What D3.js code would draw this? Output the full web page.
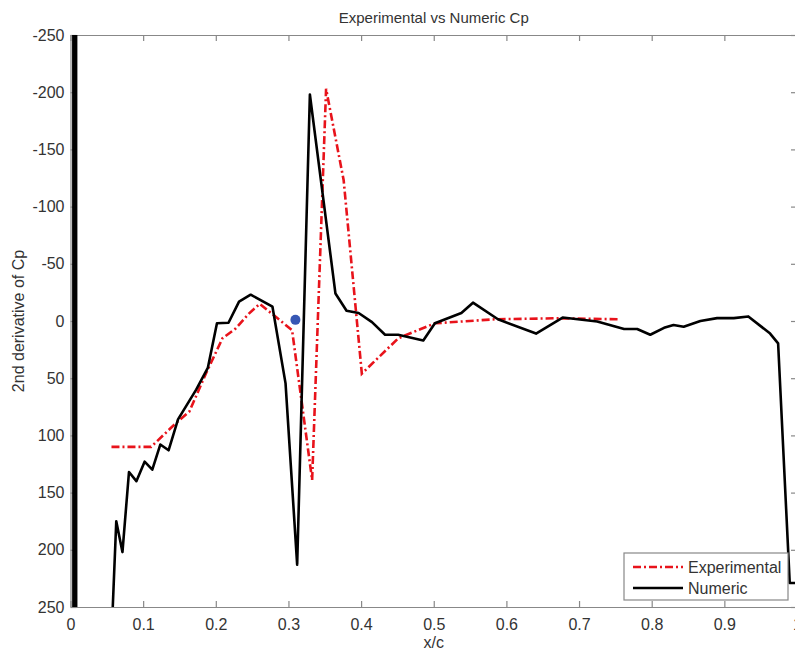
<!DOCTYPE html>
<html>
<head>
<meta charset="utf-8">
<script src="https://cdn.jsdelivr.net/npm/d3@7"></script>
<style>
  body { margin: 0; background: #fff; }
  svg text { font-family: "Liberation Sans", Arial, sans-serif; fill: #333; }
</style>
</head>
<body>
<div id="chart"></div>
<script>
// Numeric Cp second derivative (x/c, value)
const numericX = [0.003, 0.005, 0.007, 0.0085, 0.053, 0.063, 0.0715, 0.0805, 0.0907, 0.102, 0.1126, 0.1236, 0.135, 0.148, 0.173, 0.189, 0.2016, 0.2175, 0.232, 0.248, 0.278, 0.296, 0.312, 0.3295, 0.3647, 0.38, 0.3966, 0.415, 0.433, 0.451, 0.4856, 0.5016, 0.538, 0.554, 0.5884, 0.6408, 0.6774, 0.725, 0.762, 0.78, 0.798, 0.817, 0.83, 0.844, 0.867, 0.89, 0.913, 0.933, 0.963, 0.974, 0.99, 1.0];
const numericY = [-5000, 5000, -5000, 5000, 330, 175, 202, 132, 140, 123, 130, 108, 113, 86, 60, 41, 2, 1.5, -17, -23, -12.5, 54.5, 213, -198, -24, -9, -7, 1, 12, 12, 17, 2, -7, -16, -1.5, 11, -3, 0.5, 7, 7, 12, 6, 3.5, 5, 0, -2.5, -2.5, -4, 11, 19.5, 229, 229];

// Experimental
const expX = [0.0564, 0.111, 0.1455, 0.1637, 0.1866, 0.2093, 0.2277, 0.246, 0.2605, 0.305, 0.3326, 0.3518, 0.376, 0.401, 0.4514, 0.5016, 0.584, 0.67, 0.753];
const expY = [110, 110, 89, 79, 45.7, 15, 6.4, -6.7, -15, 8, 139, -203, -123, 46, 15, 2, -1.5, -2.4, -1.5];

// single marker
const markerX = [0.3096];
const markerY = [-1];

const xTicks = [0, 0.1, 0.2, 0.3, 0.4, 0.5, 0.6, 0.7, 0.8, 0.9, 1];
const yTicks = [-250, -200, -150, -100, -50, 0, 50, 100, 150, 200, 250];
const seriesNames = ["Experimental", "Numeric"];

const width = 795, height = 650;
const margin = { top: 35, right: -2, bottom: 43, left: 70.5 };

const svg = d3.select("#chart").append("svg")
    .attr("width", width)
    .attr("height", height);

const x = d3.scaleLinear().domain([0, 1]).range([margin.left, width - margin.right]);
const y = d3.scaleLinear().domain([-250, 250]).range([margin.top, height - margin.bottom]);

svg.append("clipPath").attr("id", "plot-clip")
    .append("rect")
    .attr("x", x(0)).attr("y", y(-250))
    .attr("width", x(1) - x(0)).attr("height", y(250) - y(-250));

// axes (MATLAB style box with inward ticks)
const axisColor = "#888";
function styleAxis(g, showLabels) {
    g.select(".domain").attr("stroke", axisColor).attr("stroke-width", 1.2);
    g.selectAll(".tick line").attr("stroke", axisColor).attr("stroke-width", 1.2);
    g.selectAll(".tick text").attr("font-size", 16).attr("fill", "#333");
    if (!showLabels) g.selectAll(".tick text").remove();
}

svg.append("g")
    .attr("transform", `translate(0,${y(250)})`)
    .call(d3.axisBottom(x).tickValues(xTicks).tickSizeInner(-6).tickSizeOuter(0).tickPadding(12)
        .tickFormat(d => d === 0 || d === 1 ? String(d) : d.toFixed(1)))
    .call(g => styleAxis(g, true));

svg.append("g")
    .attr("transform", `translate(0,${y(-250)})`)
    .call(d3.axisTop(x).tickValues(xTicks).tickSizeInner(-6).tickSizeOuter(0))
    .call(g => styleAxis(g, false));

svg.append("g")
    .attr("transform", `translate(${x(0)},0)`)
    .call(d3.axisLeft(y).tickValues(yTicks).tickSizeInner(-6).tickSizeOuter(0).tickPadding(6)
        .tickFormat(d => String(d)))
    .call(g => styleAxis(g, true));

svg.append("g")
    .attr("transform", `translate(${x(1)},0)`)
    .call(d3.axisRight(y).tickValues(yTicks).tickSizeInner(-6).tickSizeOuter(0))
    .call(g => styleAxis(g, false));

// lines
const plot = svg.append("g").attr("clip-path", "url(#plot-clip)");

const numericData = numericX.map((v, i) => ({ x: v, y: numericY[i] }));
const expData = expX.map((v, i) => ({ x: v, y: expY[i] }));

const line = d3.line().x(d => x(d.x)).y(d => y(d.y));

plot.append("path")
    .datum(expData)
    .attr("fill", "none")
    .attr("stroke", "#e8131b")
    .attr("stroke-width", 2.6)
    .attr("stroke-dasharray", "8,3,2,3")
    .attr("d", line);

plot.append("path")
    .datum(numericData)
    .attr("fill", "none")
    .attr("stroke", "#000")
    .attr("stroke-width", 2.6)
    .attr("stroke-linejoin", "round")
    .attr("d", line);

plot.selectAll("circle.marker")
    .data(markerX.map((v, i) => ({ x: v, y: markerY[i] })))
    .join("circle")
    .attr("class", "marker")
    .attr("cx", d => x(d.x))
    .attr("cy", d => y(d.y))
    .attr("r", 5)
    .attr("fill", "#3757b4");

// title and labels
svg.append("text")
    .attr("x", (x(0) + x(1)) / 2).attr("y", 23)
    .attr("text-anchor", "middle")
    .attr("font-size", 15)
    .text("Experimental vs Numeric Cp");

svg.append("text")
    .attr("x", (x(0) + x(1)) / 2).attr("y", 648)
    .attr("text-anchor", "middle")
    .attr("font-size", 16)
    .text("x/c");

svg.append("text")
    .attr("transform", `translate(24,${(y(-250) + y(250)) / 2}) rotate(-90)`)
    .attr("text-anchor", "middle")
    .attr("font-size", 16)
    .text("2nd derivative of Cp");

// legend
const legend = svg.append("g").attr("transform", "translate(624,553)");
legend.append("rect")
    .attr("width", 164).attr("height", 47)
    .attr("fill", "#fff").attr("stroke", "#888").attr("stroke-width", 1.2);

const legendItems = legend.selectAll("g.item")
    .data(seriesNames)
    .join("g")
    .attr("class", "item")
    .attr("transform", (d, i) => `translate(0,${14 + i * 21})`);

legendItems.append("line")
    .attr("x1", 9).attr("x2", 59)
    .attr("stroke", d => d === "Experimental" ? "#e8131b" : "#000")
    .attr("stroke-width", 2.6)
    .attr("stroke-dasharray", d => d === "Experimental" ? "8,3,2,3" : null);

legendItems.append("text")
    .attr("x", 64).attr("y", 6)
    .attr("font-size", 16)
    .text(d => d);
</script>
</body>
</html>
